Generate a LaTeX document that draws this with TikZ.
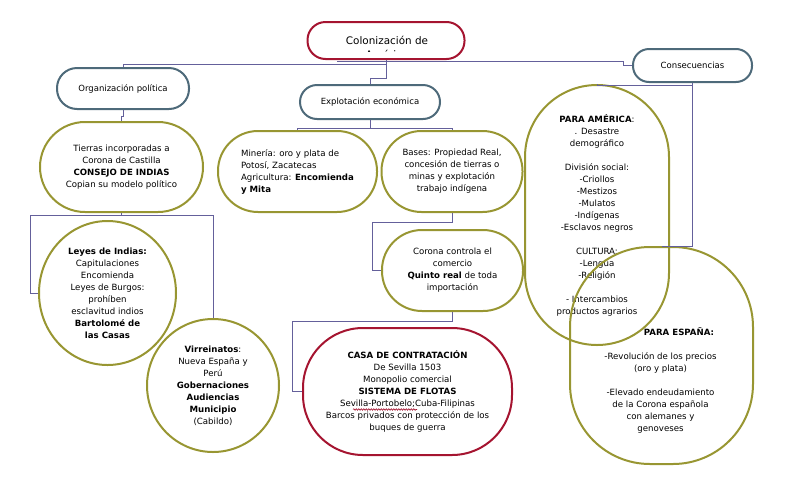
\documentclass[tikz,border=0pt]{standalone}
\usepackage{fontspec}
\setmainfont{DejaVu Sans}
\usepackage{tikz}
\usetikzlibrary{calc,shapes,snakes}

\definecolor{rojo}{RGB}{165,20,48}
\definecolor{oliva}{RGB}{152,150,50}
\definecolor{pizarra}{RGB}{78,106,122}
\definecolor{enlace}{RGB}{100,96,155}

\begin{document}
\begin{tikzpicture}[x=1pt, y=-1pt,
	caja/.style={draw, line width=2pt, align=center, inner sep=0pt, font=\fontsize{8.6}{12}\selectfont},
	rama/.style={caja, draw=pizarra, font=\fontsize{8.5}{12}\selectfont},
	hoja/.style={caja, draw=oliva},
	clave/.style={caja, draw=rojo},
	linea/.style={draw=enlace, line width=0.9pt}]

		\useasboundingbox ( 0, 0 ) rectangle ( 787, 488 );

		\node[clave, minimum width=157pt, minimum height=37pt, rounded corners=18pt, at={( 386, 40.5 )}] (titulo) {};
		\begin{scope}
			\clip ( 312, 24 ) rectangle ( 461, 51.5 );
			\node[anchor=base, font=\fontsize{10.4}{14}\selectfont, inner sep=0pt, at={( 387, 44 )}] (tituloa) {Colonización de};
			\node[anchor=base, font=\fontsize{10.4}{14}\selectfont, inner sep=0pt, at={( 387, 58 )}] (titulob) {América};
		\end{scope}

		\node[rama, minimum width=132pt, minimum height=41pt, rounded corners=20pt, at={( 123, 88.5 )}] (organiza) {Organización política};
		\node[rama, minimum width=140pt, minimum height=34pt, rounded corners=17pt, at={( 370, 102 )}] (explota) {Explotación económica};
		\node[rama, minimum width=119pt, minimum height=33pt, rounded corners=16pt, at={( 692.5, 65.5 )}] (consec) {Consecuencias};

		\node[hoja, minimum width=163pt, minimum height=90pt, rounded corners=45pt, at={( 121.5, 167 )}] (tierras) {Tierras incorporadas a\\Corona de Castilla\\\textbf{CONSEJO DE INDIAS}\\Copian su modelo político};
		\node[hoja, ellipse, minimum width=137pt, minimum height=144pt, at={( 107.5, 293 )}] (leyes) {\textbf{Leyes de Indias:}\\Capitulaciones\\Encomienda\\Leyes de Burgos:\\prohíben\\esclavitud indios\\\textbf{Bartolomé de}\\\textbf{las Casas}};
		\node[hoja, ellipse, minimum width=132pt, minimum height=133pt, at={( 213, 385.5 )}] (virrey) {\textbf{Virreinatos}:\\Nueva España y\\Perú\\\textbf{Gobernaciones}\\\textbf{Audiencias}\\\textbf{Municipio}\\(Cabildo)};

		\node[hoja, align=left, minimum width=159pt, minimum height=81pt, rounded corners=40pt, at={( 297.5, 171.5 )}] (mineria) {Minería: oro y plata de\\Potosí, Zacatecas\\Agricultura: \textbf{Encomienda}\\\textbf{y Mita}};
		\node[hoja, minimum width=141pt, minimum height=81pt, rounded corners=40pt, at={( 452, 171.5 )}] (bases) {Bases: Propiedad Real,\\concesión de tierras o\\minas y explotación\\trabajo indígena};
		\node[hoja, minimum width=141pt, minimum height=81pt, rounded corners=40pt, at={( 452.5, 270.5 )}] (corona) {Corona controla el\\comercio\\\textbf{Quinto real} de toda\\importación};
		\node[clave, minimum width=209pt, minimum height=127pt, rounded corners=60pt, at={( 407.5, 391.5 )}] (casa) {\textbf{CASA DE CONTRATACIÓN}\\De Sevilla 1503\\Monopolio comercial\\\textbf{SISTEMA DE FLOTAS}\\Sevilla-Portobelo;Cuba-Filipinas\\Barcos privados con protección de los\\buques de guerra};
		\draw[rojo, line width=0.6pt, snake=snake, segment amplitude=0.8pt, segment length=2.5pt] ( 353, 409.5 ) -- ( 417, 409.5 );

		\node[hoja, minimum width=144pt, minimum height=260pt, rounded corners=72pt, at={( 597, 215 )}] (america) {\textbf{PARA AMÉRICA}:\\. Desastre\\demográfico\\[12pt]División social:\\-Criollos\\-Mestizos\\-Mulatos\\-Indígenas\\-Esclavos negros\\[12pt]CULTURA:\\-Lengua\\-Religión\\[12pt]- Intercambios\\productos agrarios};
		\node[hoja, minimum width=183pt, minimum height=217pt, rounded corners=80pt, at={( 661.5, 355.5 )}] (espana) {};
		\node[caja, draw=none, at={( 660.5, 380.5 )}] (espanatxt) {\hspace*{37pt}\textbf{PARA ESPAÑA:}\\[12pt]-Revolución de los precios\\(oro y plata)\\[12pt]-Elevado endeudamiento\\de la Corona española\\con alemanes y\\genoveses};

		\coordinate (salida) at ( 337, 61 );
		\draw[linea] (titulo.south) -- ++( 0, 4 ) -| (organiza.north);
		\draw[linea] (titulo.south) -- ++( 0, 18 ) -| (explota.north);
		\draw[linea] (salida) -| ($(consec.west)+( -9, 0 )$) -- (consec.west);

		\draw[linea] (organiza.south) -- ++( 0, 6 ) -| (tierras.north);
		\draw[linea] (tierras.south) -- ++( 0, 2 ) coordinate (t1);
		\draw[linea] (t1) -| ($(leyes.west)+( -8, 0 )$) -- (leyes.west);
		\draw[linea] (t1) -| (virrey.north);

		\draw[linea] (explota.south) -- ++( 0, 8 ) coordinate (e1);
		\draw[linea] (e1) -| (mineria.north);
		\draw[linea] (e1) -| (bases.north);
		\draw[linea] (bases.south) -- ++( 0, 9 ) -| ($(corona.west)+( -9, 0 )$) -- (corona.west);
		\draw[linea] (corona.south) -- ++( 0, 9 ) -| ($(casa.west)+( -10, 0 )$) -- (casa.west);

		\draw[linea] (consec.south) -- ++( 0, 2 ) -| (america.north);
		\draw[linea] (consec.south) |- (espana.north);

	\end{tikzpicture}
\end{document}
